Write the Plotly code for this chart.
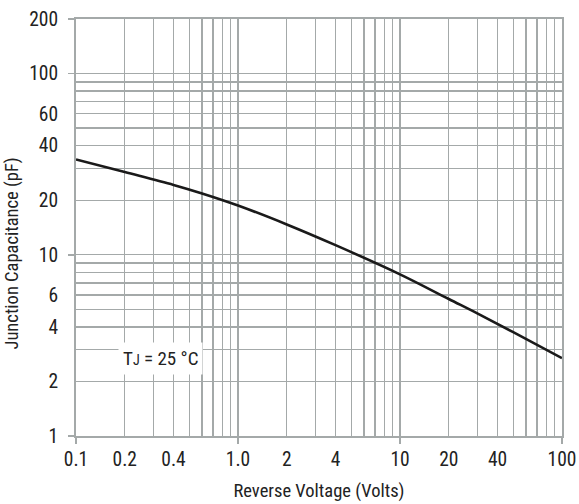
import plotly.graph_objects as go

# Data
voltage = [0.1, 0.2, 0.4, 0.6, 1.0, 2, 4, 10, 20, 30, 50, 100]
capacitance = [33.6, 28.6, 24.3, 21.8, 18.7, 14.7, 11.3, 7.8, 5.7, 4.75, 3.74, 2.69]

x_grid = [m * d for d in (0.1, 1, 10) for m in range(1, 10)] + [100]
x_labels = {0.1: "0.1", 0.2: "0.2", 0.4: "0.4", 1.0: "1.0", 2: "2", 4: "4",
            10: "10", 20: "20", 40: "40", 100: "100"}
x_major = [0.1, 1, 10, 100]

y_grid = [m * d for d in (1, 10) for m in range(1, 10)] + [100, 200]
y_labels = {1: "1", 2: "2", 4: "4", 6: "6", 10: "10", 20: "20", 40: "40",
            60: "60", 100: "100", 200: "200"}
y_major = [1, 10, 100, 200]

FONT = "Liberation Sans Narrow, Roboto Condensed, Arial Narrow, Liberation Sans, sans-serif"
GRID = "#a4a9a9"
TXT = "#222222"


def label_for(v, labels):
    for k, t in labels.items():
        if abs(k - v) < 1e-9 * max(1, k):
            return t
    return ""


fig = go.Figure()
fig.add_trace(go.Scatter(x=voltage, y=capacitance, mode="lines",
                         line=dict(color="#1a1a1a", width=2.6, shape="spline", smoothing=1.0),
                         showlegend=False, hoverinfo="skip"))

fig.update_layout(
    width=579, height=504,
    margin=dict(l=76, r=17, t=19, b=68, autoexpand=False),
    paper_bgcolor="white", plot_bgcolor="white",
    font=dict(family=FONT, size=19, color=TXT),
    xaxis=dict(type="log", range=[-1, 2], automargin=False,
               tickmode="array", tickvals=x_grid,
               ticktext=[label_for(v, x_labels) for v in x_grid],
               ticks="", showgrid=True, gridcolor=GRID, gridwidth=1.3,
               showline=True, linecolor=GRID, linewidth=2, mirror=True,
               zeroline=False, ticklabelstandoff=5, ticklabeloverflow="allow",
               tickfont=dict(family=FONT, size=19.5, color=TXT),
               minor=dict(tickmode="array", tickvals=x_major, ticks="outside",
                          ticklen=6, tickwidth=1.5, tickcolor=GRID, showgrid=False),
               title=dict(text="Reverse Voltage (Volts)", standoff=14,
                          font=dict(family=FONT, size=18.5, color=TXT))),
    yaxis=dict(type="log", range=[0, 2.30103], automargin=False,
               tickmode="array", tickvals=y_grid,
               ticktext=[label_for(v, y_labels) for v in y_grid],
               ticks="", showgrid=True, gridcolor=GRID, gridwidth=1.3,
               showline=True, linecolor=GRID, linewidth=2, mirror=True,
               zeroline=False, ticklabelstandoff=12,
               tickfont=dict(family=FONT, size=19.5, color=TXT),
               minor=dict(tickmode="array", tickvals=y_major, ticks="outside",
                          ticklen=6, tickwidth=1.5, tickcolor=GRID, showgrid=False)),
    annotations=[
        dict(x=-0.48, y=0.43, xref="x", yref="y",
             text="T<span style='font-size:14px'>J</span> = 25 °C", showarrow=False,
             bgcolor="white", borderpad=4,
             font=dict(family=FONT, size=19, color=TXT)),
        dict(x=-0.1317, y=0.4376, xref="paper", yref="paper",
             xanchor="center", yanchor="middle",
             text="Junction Capacitance (pF)", textangle=-90, showarrow=False,
             font=dict(family=FONT, size=18.5, color=TXT)),
    ],
)

fig.write_html(
    "out.html",
    config={"displayModeBar": False, "staticPlot": True},
    post_script=("document.documentElement.style.margin='0px';"
                 "document.documentElement.style.overflow='hidden';"
                 "document.body.style.margin='0px';"
                 "document.body.style.overflow='hidden';"),
)
